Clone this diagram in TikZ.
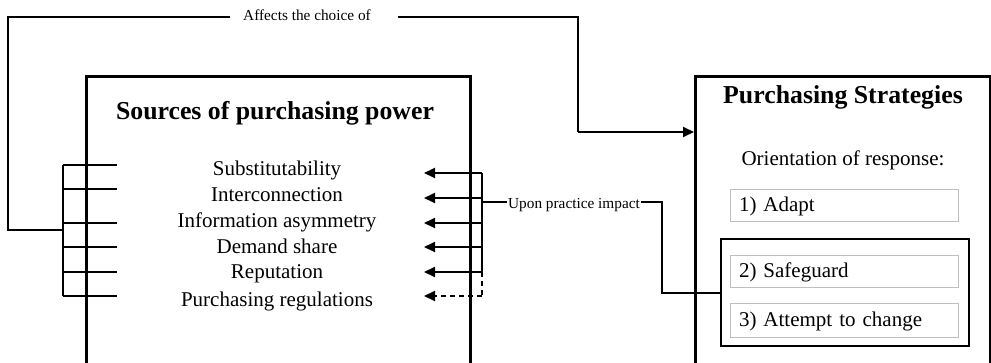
\documentclass[tikz,border=0pt]{standalone}
\usepackage{fontspec}
\setmainfont{Liberation Serif}
\usetikzlibrary{arrows.meta}
\begin{document}
\begin{tikzpicture}[x=1pt,y=-1pt,
  bigbox/.style={draw,line width=3pt,rectangle,inner sep=0pt,anchor=north west},
  conn/.style={line width=2pt},
  arr/.style={conn,-{Triangle[length=11pt,width=10pt]}},
  itemtxt/.style={font=\fontsize{21}{24}\selectfont,inner sep=0pt,anchor=base},
  titletxt/.style={font=\fontsize{25.8}{30}\selectfont\bfseries,inner sep=0pt,anchor=base},
  smalltxt/.style={font=\fontsize{15.3}{18}\selectfont,inner sep=0pt},
  optbox/.style={draw=black!25,line width=1pt,rectangle,minimum width=228pt,inner sep=0pt,
    text width=210pt,align=left,font=\fontsize{21}{24}\selectfont},
  groupbox/.style={draw,line width=1.2pt,rectangle,inner sep=0pt}
]
\useasboundingbox (0,0) rectangle (991,363);
% main boxes
\node[bigbox,minimum width=384pt,minimum height=300pt] (L) at (85,75) {};
\node[bigbox,minimum width=295pt,minimum height=300pt] (R) at (694,75) {};
% titles
\node[titletxt] (Lt) at (275,120) {Sources of purchasing power};
\node[titletxt] (Rt) at (843,104) {Purchasing Strategies};
\node[itemtxt] (ori) at (843,166) {Orientation of response:};
% items
\node[itemtxt] (i1) at (277,176) {Substitutability};
\node[itemtxt] (i2) at (277,202) {Interconnection};
\node[itemtxt] (i3) at (277,228) {Information asymmetry};
\node[itemtxt] (i4) at (277,253.5) {Demand share};
\node[itemtxt] (i5) at (277,279) {Reputation};
\node[itemtxt] (i6) at (277,307) {Purchasing regulations};
% option boxes
\node[groupbox,minimum width=248pt,minimum height=107pt] (G) at (845,292.5) {};
\node[optbox,minimum height=32pt] (o1) at (844,206) {1) Adapt};
\node[optbox,minimum height=32pt] (o2) at (844,272) {2) Safeguard};
\node[optbox,minimum height=34pt] (o3) at (844,321) {3) Attempt to change};
% left bracket
\coordinate (b1) at (63,165); \coordinate (e1) at (117,165);
\coordinate (b2) at (63,189); \coordinate (e2) at (117,189);
\coordinate (b3) at (63,223); \coordinate (e3) at (117,223);
\coordinate (b4) at (63,247); \coordinate (e4) at (117,247);
\coordinate (b5) at (63,272); \coordinate (e5) at (117,272);
\coordinate (b6) at (63,296); \coordinate (e6) at (117,296);
\draw[conn] (b1) -- (b6);
\foreach \k in {1,...,6} \draw[conn] (b\k) -- (e\k);
% feedback line
\coordinate (fj) at (63,230);
\coordinate (fl) at (8,230);
\coordinate (ftl) at (8,17);
\coordinate (ftr) at (578,17);
\coordinate (fbr) at (578,132);
\node[smalltxt] (aff) at (307,15) {Affects the choice of};
\draw[conn] (fj) -- (fl) -- (ftl) -- ([xshift=-13pt]aff.west |- ftl);
\draw[conn] ([xshift=27pt]aff.east |- ftl) -- (ftr) -- (fbr);
\draw[arr] (fbr) -- (fbr -| R.west);
% right arrows
\coordinate (r1) at (482,173); \coordinate (t1) at (424,173);
\coordinate (r2) at (482,198); \coordinate (t2) at (424,198);
\coordinate (r3) at (482,223); \coordinate (t3) at (424,223);
\coordinate (r4) at (482,247); \coordinate (t4) at (424,247);
\coordinate (r5) at (482,272); \coordinate (t5) at (424,272);
\coordinate (r6) at (482,296); \coordinate (t6) at (424,296);
\draw[conn] (r1) -- (r5);
\draw[conn,dashed,dash pattern=on 5pt off 4pt] (r5) -- (r6);
\foreach \k in {1,...,5} \draw[arr] (r\k) -- (t\k);
\draw[arr,dash pattern=on 5pt off 4pt] (r6) -- (t6);
% upon practice impact
\coordinate (uj) at (482,202);
\node[smalltxt,inner xsep=1pt] (upi) at (574,205) {Upon practice impact};
\coordinate (ur) at (662,202);
\coordinate (ud) at (662,293);
\draw[conn] (uj) -- (upi.west |- uj);
\draw[conn] (upi.east |- ur) -- (ur) -- (ud) -- (ud -| G.west);
\end{tikzpicture}
\end{document}
